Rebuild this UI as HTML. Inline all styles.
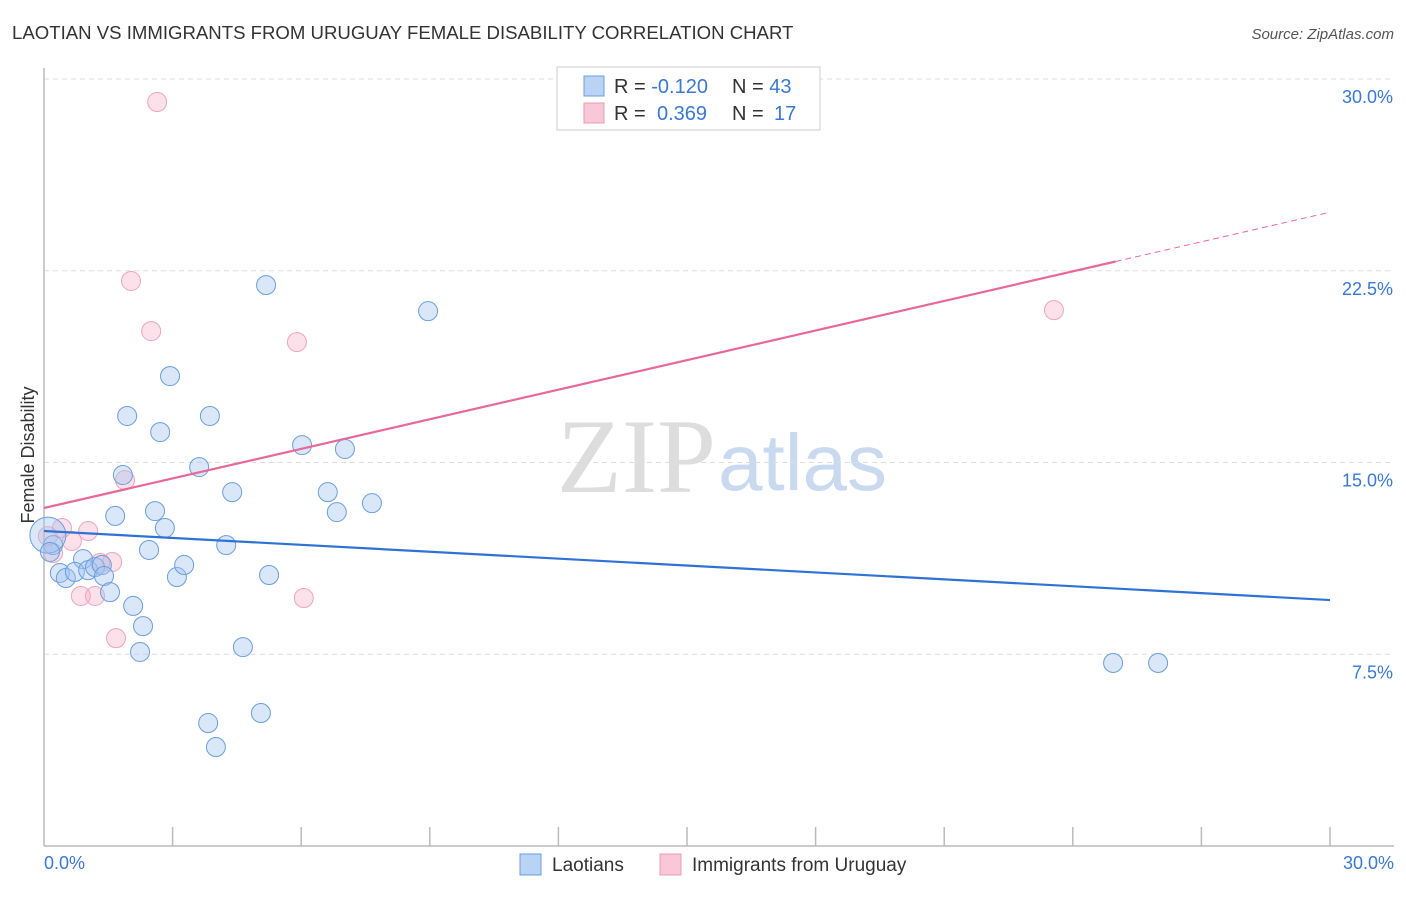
<!DOCTYPE html>
<html><head><meta charset="utf-8"><style>
body{margin:0;background:#fff;font-family:"Liberation Sans",sans-serif}
</style></head><body>
<svg width="1406" height="892" xmlns="http://www.w3.org/2000/svg" font-family="Liberation Sans, sans-serif">
<text x="12" y="39" font-size="18.6" fill="#333">LAOTIAN VS IMMIGRANTS FROM URUGUAY FEMALE DISABILITY CORRELATION CHART</text>
<text x="1394" y="39" font-size="15" fill="#555" text-anchor="end" font-style="italic">Source: ZipAtlas.com</text>
<text x="716" y="492" font-size="106" fill="#ddd" text-anchor="end" font-family="Liberation Serif, serif">ZIP</text>
<text x="718" y="490" font-size="80" fill="#c9daf0">atlas</text>
<g id="grid"></g>
<g id="axes"></g>
<g id="points"></g>
<g id="lines"></g>
<text x="34" y="455" font-size="18" fill="#333" text-anchor="middle" transform="rotate(-90 34 455)">Female Disability</text>
<text x="44" y="869" font-size="18" fill="#3a78d4">0.0%</text>
<text x="1394" y="869" font-size="18" fill="#3a78d4" text-anchor="end">30.0%</text>
<g>
<rect x="557" y="67" width="263" height="63" fill="#fff" stroke="#ccc"/>
<rect x="584" y="76" width="20" height="20" fill="#b9d3f5" stroke="#6a9ee0"/>
<rect x="584" y="103" width="20" height="20" fill="#f9c8d8" stroke="#eb9ab4"/>
<text x="614" y="93" font-size="20" fill="#333">R = <tspan fill="#3a78d4">-0.120</tspan><tspan x="732">N = </tspan><tspan fill="#3a78d4">43</tspan></text>
<text x="614" y="120" font-size="20" fill="#333">R = <tspan x="657" fill="#3a78d4">0.369</tspan><tspan x="732">N = </tspan><tspan x="774" fill="#3a78d4">17</tspan></text>
</g>
<g>
<rect x="520" y="854" width="21" height="21" fill="#b9d3f5" stroke="#6a9ee0"/>
<text x="552" y="871" font-size="19" fill="#333">Laotians</text>
<rect x="660" y="854" width="21" height="21" fill="#f9c8d8" stroke="#eb9ab4"/>
<text x="692" y="871" font-size="19" fill="#333">Immigrants from Uruguay</text>
</g>
</svg>
<script>
const yTicks=[7.5,15,22.5,30];
const yTickLabels=["7.5%","15.0%","22.5%","30.0%"];
const blueX=[1.94,3.87,2.94,2.71,5.18,8.96,1.84,3.62,6.02,7.02,4.39,6.62,7.65,2.59,1.66,6.83,2.82,4.25,2.45,0.91,0.21,0.09,0.37,0.51,0.72,1.03,1.19,1.35,1.40,1.54,2.08,3.10,3.27,5.25,2.31,2.24,4.64,5.06,3.83,4.01,24.94,25.99,0.14];
const blueY=[16.82,16.82,18.38,16.19,21.94,20.92,14.51,14.82,15.68,15.53,13.84,13.84,13.41,13.10,12.91,13.06,12.44,11.77,11.58,11.22,11.77,12.16,10.68,10.48,10.72,10.79,10.91,10.99,10.56,9.93,9.39,10.52,10.99,10.60,8.60,7.59,7.78,5.20,4.81,3.87,7.16,7.16,11.50];
const pinkX=[2.64,2.03,2.50,5.90,23.56,1.89,1.03,0.65,0.42,0.21,1.59,0.86,1.19,6.06,1.68,0.09,1.31];
const pinkY=[29.10,22.10,20.14,19.71,20.96,14.31,12.32,11.93,12.44,11.46,11.11,9.78,9.78,9.70,8.13,12.12,11.07];
const blueTrend=[12.32,9.62];
const pinkTrend=[13.22,24.79];
const pinkSolidEnd=25;
const X=v=>44+v*1286/30, Y=v=>846-v*767/30;
const NS="http://www.w3.org/2000/svg";
function mk(t,a,p){const e=document.createElementNS(NS,t);for(const k in a)e.setAttribute(k,a[k]);document.getElementById(p).appendChild(e);return e;}
yTicks.forEach((t,i)=>{
 const g=mk('line',{x1:44,x2:1394,y1:Y(t),y2:Y(t),stroke:'#ddd','stroke-dasharray':'5,4'},'grid');
 
 
 const l=mk('text',{x:1393,y:Y(t)+24,'font-size':18,fill:'#3a78d4','text-anchor':'end'},'grid');
 l.textContent=yTickLabels[i];
 
 
});
const ax=mk('line',{x1:44,x2:44,y1:68,y2:846,stroke:'#bbb','stroke-width':1.5},'axes');


const bx=mk('line',{x1:44,x2:1394,y1:846,y2:846,stroke:'#bbb','stroke-width':1.5},'axes');


for(let i=1;i<=10;i++){const t=mk('line',{x1:X(i*3),x2:X(i*3),y1:827,y2:846,stroke:'#bbb','stroke-width':1.5},'axes');
 
 }
pinkX.forEach((x,i)=>{const c=mk('circle',{cx:X(x),cy:Y(pinkY[i]),r:9.5,fill:'rgba(245,170,195,0.35)',stroke:'#eea5bd','stroke-width':1},'points');
 
 });
blueX.forEach((x,i)=>{const c=mk('circle',{cx:X(x),cy:Y(blueY[i]),r:(i==21?18:9.5),fill:'rgba(160,195,240,0.4)',stroke:'#6a9ee0','stroke-width':1},'points');
 
 });
const bl=mk('line',{x1:X(0),y1:Y(blueTrend[0]),x2:X(30),y2:Y(blueTrend[1]),stroke:'#2f72d6','stroke-width':2.2},'lines');


const py=x=>pinkTrend[0]+(pinkTrend[1]-pinkTrend[0])*x/30;
const pl=mk('line',{x1:X(0),y1:Y(py(0)),x2:X(pinkSolidEnd),y2:Y(py(pinkSolidEnd)),stroke:'#e8689a','stroke-width':2.2},'lines');


const pd=mk('line',{x1:X(pinkSolidEnd),y1:Y(py(pinkSolidEnd)),x2:X(30),y2:Y(py(30)),stroke:'#e8689a','stroke-width':1,'stroke-dasharray':'6,4'},'lines');


</script>
</body></html>
